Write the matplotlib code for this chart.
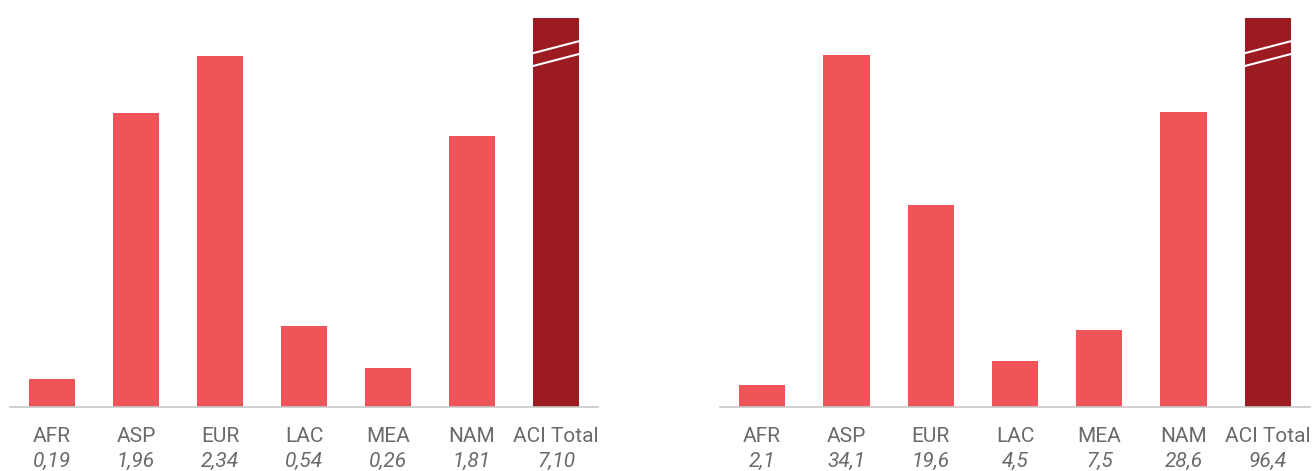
import numpy as np
import matplotlib.pyplot as plt
import matplotlib.transforms as mtransforms

regions = ['AFR', 'ASP', 'EUR', 'LAC', 'MEA', 'NAM', 'ACI Total']
left_vals = [0.19, 1.96, 2.34, 0.54, 0.26, 1.81, 7.10]
right_vals = [2.1, 34.1, 19.6, 4.5, 7.5, 28.6, 96.4]

light_red = '#EF5459'
dark_red = '#9B1B20'
text_col = '#6A6A6A'

plt.rcParams['font.family'] = ['Roboto', 'DejaVu Sans']


def fmt(v, nd):
    return f'{v:.{nd}f}'.replace('.', ',')


def panel(ax, vals, ymax, nd):
    x = np.arange(len(vals))
    heights = np.minimum(vals, ymax)
    colors = [light_red] * (len(vals) - 1) + [dark_red]
    ax.bar(x, heights, width=0.55, color=colors)
    ax.set_xlim(-0.5, len(vals) - 0.5)
    ax.set_ylim(0, ymax)
    for s in ['top', 'right', 'left']:
        ax.spines[s].set_visible(False)
    ax.spines['bottom'].set_color('#C8C8C8')
    ax.spines['bottom'].set_linewidth(1.2)
    ax.set_xticks([])
    ax.set_yticks([])

    trans = mtransforms.blended_transform_factory(ax.transData, ax.transAxes)
    for i, v in enumerate(vals):
        ax.text(i, -0.075, regions[i], transform=trans, ha='center', va='center',
                fontsize=15, fontweight='normal', color=text_col)
        ax.text(i, -0.139, fmt(v, nd), transform=trans, ha='center', va='center',
                fontsize=15, fontweight='normal', style='italic', color=text_col)

    # break marks on the capped bar
    i = len(vals) - 1
    for yc in [0.925, 0.892]:
        ax.plot([i - 0.275, i + 0.275], [yc - 0.0155, yc + 0.0155], transform=trans,
                color='white', lw=1.5, solid_capstyle='butt', clip_on=False)


fig = plt.figure(figsize=(13.12, 4.71), dpi=100)
ax1 = fig.add_axes([10 / 1312, 64 / 471, 588 / 1312, 389 / 471])
ax2 = fig.add_axes([720 / 1312, 64 / 471, 590 / 1312, 389 / 471])

panel(ax1, left_vals, 389 / 150, 2)
panel(ax2, right_vals, 389 / 10.33, 1)

fig.savefig('out.png', dpi=100)
